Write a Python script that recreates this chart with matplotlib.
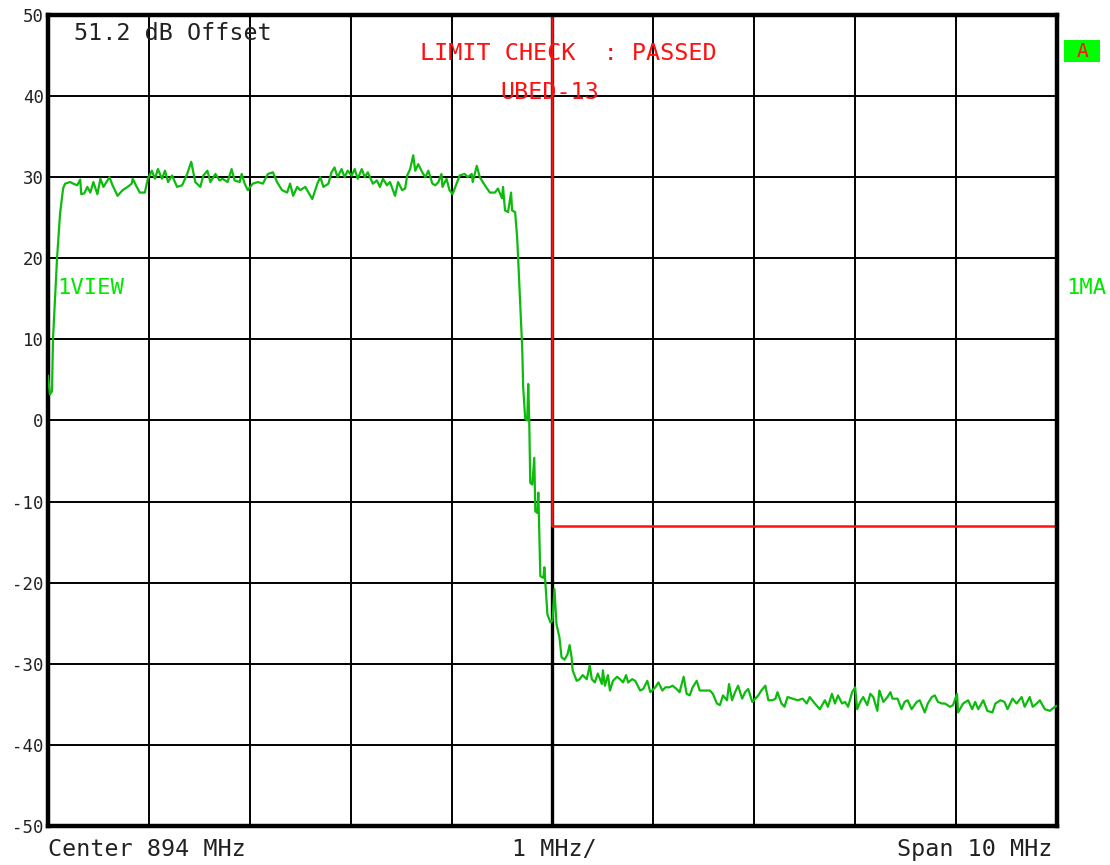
import matplotlib

matplotlib.use("Agg")
import matplotlib.pyplot as plt
from matplotlib.patches import Rectangle

# sweep settings
CENTER_MHZ = 894
SPAN_MHZ = 10
REF_DB = 50
RANGE_DB = 100

# trace 1 (view), read point by point
TRACE_MHZ = [
    889.00, 889.02, 889.04, 889.05, 889.09, 889.12, 889.15, 889.17, 889.22, 889.25,
    889.29, 889.32, 889.33, 889.36, 889.39, 889.42, 889.45, 889.49, 889.52, 889.55,
    889.58, 889.61, 889.64, 889.69, 889.74, 889.79, 889.83, 889.84, 889.88, 889.91,
    889.96, 889.99, 890.03, 890.06, 890.09, 890.13, 890.16, 890.19, 890.23, 890.28,
    890.33, 890.38, 890.42, 890.46, 890.51, 890.54, 890.58, 890.61, 890.66, 890.70,
    890.73, 890.78, 890.82, 890.85, 890.90, 890.92, 890.95, 890.98, 891.03, 891.08,
    891.13, 891.18, 891.23, 891.27, 891.32, 891.37, 891.40, 891.43, 891.47, 891.50,
    891.55, 891.62, 891.67, 891.70, 891.73, 891.78, 891.81, 891.84, 891.87, 891.91,
    891.94, 891.97, 892.01, 892.04, 892.07, 892.11, 892.14, 892.17, 892.22, 892.26,
    892.29, 892.32, 892.36, 892.39, 892.44, 892.47, 892.51, 892.54, 892.56, 892.59,
    892.62, 892.64, 892.67, 892.71, 892.74, 892.77, 892.81, 892.84, 892.87, 892.90,
    892.91, 892.95, 892.98, 893.01, 893.05, 893.08, 893.13, 893.16, 893.20, 893.21,
    893.25, 893.28, 893.33, 893.38, 893.43, 893.46, 893.50, 893.51, 893.53, 893.56,
    893.59, 893.60, 893.63, 893.65, 893.66, 893.68, 893.70, 893.71, 893.73, 893.75,
    893.76, 893.77, 893.78, 893.80, 893.82, 893.83, 893.85, 893.86, 893.88, 893.91,
    893.92, 893.95, 893.98, 894.00, 894.01, 894.02, 894.04, 894.07, 894.09, 894.12,
    894.15, 894.17, 894.19, 894.20, 894.24, 894.27, 894.30, 894.34, 894.37, 894.39,
    894.42, 894.45, 894.49, 894.50, 894.52, 894.55, 894.57, 894.60, 894.64, 894.67,
    894.70, 894.73, 894.75, 894.79, 894.82, 894.87, 894.90, 894.94, 894.97, 895.02,
    895.05, 895.09, 895.12, 895.16, 895.19, 895.23, 895.26, 895.30, 895.33, 895.36,
    895.39, 895.43, 895.46, 895.49, 895.56, 895.59, 895.63, 895.66, 895.69, 895.73,
    895.75, 895.78, 895.81, 895.84, 895.88, 895.91, 895.94, 895.98, 896.01, 896.04,
    896.07, 896.11, 896.14, 896.18, 896.21, 896.23, 896.27, 896.30, 896.33, 896.38,
    896.43, 896.48, 896.52, 896.55, 896.60, 896.65, 896.70, 896.73, 896.77, 896.80,
    896.83, 896.87, 896.90, 896.93, 896.97, 897.00, 897.02, 897.05, 897.08, 897.12,
    897.15, 897.18, 897.22, 897.24, 897.28, 897.32, 897.35, 897.37, 897.42, 897.46,
    897.49, 897.52, 897.56, 897.61, 897.64, 897.69, 897.72, 897.76, 897.79, 897.82,
    897.86, 897.89, 897.94, 897.97, 898.01, 898.02, 898.07, 898.12, 898.16, 898.19,
    898.22, 898.27, 898.31, 898.36, 898.39, 898.44, 898.48, 898.51, 898.56, 898.60,
    898.65, 898.68, 898.73, 898.76, 898.80, 898.83, 898.88, 898.93, 898.98, 899.00,
]
TRACE_DB = [
    5.5, 3.2, 3.6, 10.0, 20.0, 25.5, 28.6, 29.2, 29.4, 29.2,
    29.0, 29.7, 27.9, 28.0, 28.8, 28.1, 29.4, 27.9, 29.8, 28.8,
    29.4, 30.0, 29.0, 27.7, 28.4, 28.8, 29.2, 29.8, 28.8, 28.1,
    28.1, 29.8, 30.8, 29.8, 31.0, 29.8, 30.8, 29.4, 30.2, 28.8,
    29.0, 30.4, 31.9, 29.4, 28.8, 30.2, 30.8, 29.4, 30.4, 29.6,
    29.8, 29.4, 31.0, 29.6, 29.4, 30.4, 29.2, 28.4, 29.2, 29.4,
    29.2, 30.4, 30.6, 29.4, 28.4, 28.1, 29.2, 27.7, 28.8, 28.4,
    28.8, 27.3, 29.2, 30.0, 28.8, 29.2, 30.6, 31.2, 30.0, 31.0,
    30.0, 30.8, 30.2, 31.0, 29.8, 31.0, 30.0, 30.6, 29.2, 29.6,
    28.8, 29.8, 29.0, 29.4, 27.7, 29.4, 28.4, 28.6, 30.2, 31.0,
    32.7, 30.8, 31.6, 30.6, 30.0, 30.8, 29.2, 29.0, 29.4, 30.4,
    28.8, 29.8, 28.4, 27.9, 29.2, 30.2, 30.4, 30.0, 30.4, 29.4,
    31.4, 30.0, 29.0, 28.1, 28.1, 28.6, 27.4, 28.8, 25.9, 25.7,
    28.1, 25.9, 25.7, 22.6, 20.0, 14.4, 9.0, 4.1, 0.2, 0.0,
    4.5, 0.0, -7.7, -7.9, -4.6, -11.2, -11.4, -8.9, -19.2, -19.4,
    -18.1, -23.9, -24.9, -24.7, -22.7, -20.8, -25.1, -26.8, -29.2, -29.5,
    -28.8, -27.7, -29.2, -30.8, -32.1, -31.9, -31.4, -31.9, -30.2, -31.9,
    -32.3, -31.2, -32.5, -30.8, -32.7, -31.4, -33.3, -32.1, -31.6, -31.9,
    -32.3, -31.4, -32.3, -31.9, -32.1, -33.3, -33.1, -32.1, -33.5, -32.9,
    -32.3, -33.3, -32.9, -32.9, -32.7, -33.1, -33.5, -31.6, -33.7, -33.9,
    -32.9, -32.1, -33.3, -33.3, -33.3, -33.7, -34.9, -35.1, -33.9, -34.5,
    -32.5, -34.5, -33.5, -32.7, -34.3, -33.5, -33.1, -34.7, -34.3, -33.9,
    -33.3, -32.7, -34.5, -34.5, -34.3, -33.5, -34.9, -35.3, -34.1, -34.3,
    -34.5, -34.3, -34.9, -34.1, -34.9, -35.6, -34.5, -35.3, -33.7, -34.9,
    -33.9, -34.9, -34.7, -35.3, -33.5, -32.9, -35.6, -34.7, -34.1, -35.1,
    -33.7, -34.1, -35.8, -33.3, -34.7, -34.1, -33.5, -34.3, -34.3, -35.6,
    -34.7, -34.5, -35.6, -34.7, -34.5, -36.0, -34.9, -34.1, -33.9, -34.7,
    -34.9, -34.9, -35.3, -35.1, -33.7, -36.0, -34.9, -34.5, -35.6, -34.7,
    -35.6, -34.5, -35.8, -36.0, -34.9, -34.5, -34.7, -35.6, -34.3, -34.9,
    -34.1, -35.3, -34.1, -35.3, -34.9, -34.5, -35.6, -35.8, -35.3, -35.2,
]

# limit line UBED-13
LIMIT_MHZ = [894, 894, 899]
LIMIT_DB = [50, -13, -13]

Y_TICKS = [50, 40, 30, 20, 10, 0, -10, -20, -30, -40, -50]

MONO = "DejaVu Sans Mono"
GREEN_TRACE = "#0DBB0D"
GREEN_LABEL = "#00E800"
RED = "#FF1010"
INK = "#222222"
TXT = 16.8

start = CENTER_MHZ - SPAN_MHZ / 2
stop = CENTER_MHZ + SPAN_MHZ / 2

fig = plt.figure(figsize=(11.1, 8.65), dpi=100)
fig.patch.set_facecolor("white")
ax = fig.add_axes([0.0432, 0.0451, 0.9090, 0.9376])
ax.set_xlim(start, stop)
ax.set_ylim(REF_DB - RANGE_DB, REF_DB)

# graticule: 10 x 10 divisions, centre column a bit heavier
for k in range(1, SPAN_MHZ):
    f = start + k
    ax.axvline(f, color="black", lw=2.4 if f == CENTER_MHZ else 1.4, zorder=1)
for v in Y_TICKS[1:-1]:
    ax.axhline(v, color="black", lw=1.4, zorder=1)

ax.plot(LIMIT_MHZ, LIMIT_DB, color=RED, lw=1.8, zorder=2, clip_on=False)
ax.plot(TRACE_MHZ, TRACE_DB, color=GREEN_TRACE, lw=1.6, zorder=3)

for s in ax.spines.values():
    s.set_linewidth(3.2)
    s.set_color("black")
ax.set_xticks([])
ax.set_yticks(Y_TICKS)
ax.set_yticklabels([str(v) for v in Y_TICKS], family=MONO, fontsize=12.5, color=INK)
ax.tick_params(axis="y", length=0, pad=3)

ax.text(0.026, 0.977, "51.2 dB Offset", transform=ax.transAxes, family=MONO,
        fontsize=TXT, color=INK, va="center", ha="left")
ax.text(0.369, 0.952, "LIMIT CHECK  : PASSED", transform=ax.transAxes, family=MONO,
        fontsize=TXT, color=RED, va="center", ha="left")
ax.text(0.448, 0.905, "UBED-13", transform=ax.transAxes, family=MONO,
        fontsize=TXT, color=RED, va="center", ha="left")
ax.text(0.009, 0.663, "1VIEW", transform=ax.transAxes, family=MONO,
        fontsize=16, color=GREEN_LABEL, va="center", ha="left")
ax.text(1.009, 0.663, "1MA", transform=ax.transAxes, family=MONO,
        fontsize=16, color=GREEN_LABEL, va="center", ha="left", clip_on=False)

# trace A status badge
ax.add_patch(Rectangle((1.007, 0.942), 0.036, 0.027, transform=ax.transAxes,
                       facecolor="#00FF00", edgecolor="none", clip_on=False))
ax.text(1.025, 0.9555, "A", transform=ax.transAxes, family=MONO, fontsize=14,
        color=RED, ha="center", va="center", clip_on=False)

ax.text(0.0, -0.0296, f"Center {CENTER_MHZ} MHz", transform=ax.transAxes, family=MONO,
        fontsize=TXT, color=INK, va="center", ha="left")
ax.text(0.460, -0.0296, "1 MHz/", transform=ax.transAxes, family=MONO,
        fontsize=TXT, color=INK, va="center", ha="left")
ax.text(0.995, -0.0296, f"Span {SPAN_MHZ} MHz", transform=ax.transAxes, family=MONO,
        fontsize=TXT, color=INK, va="center", ha="right")

fig.savefig("out.png", dpi=100, facecolor="white")
